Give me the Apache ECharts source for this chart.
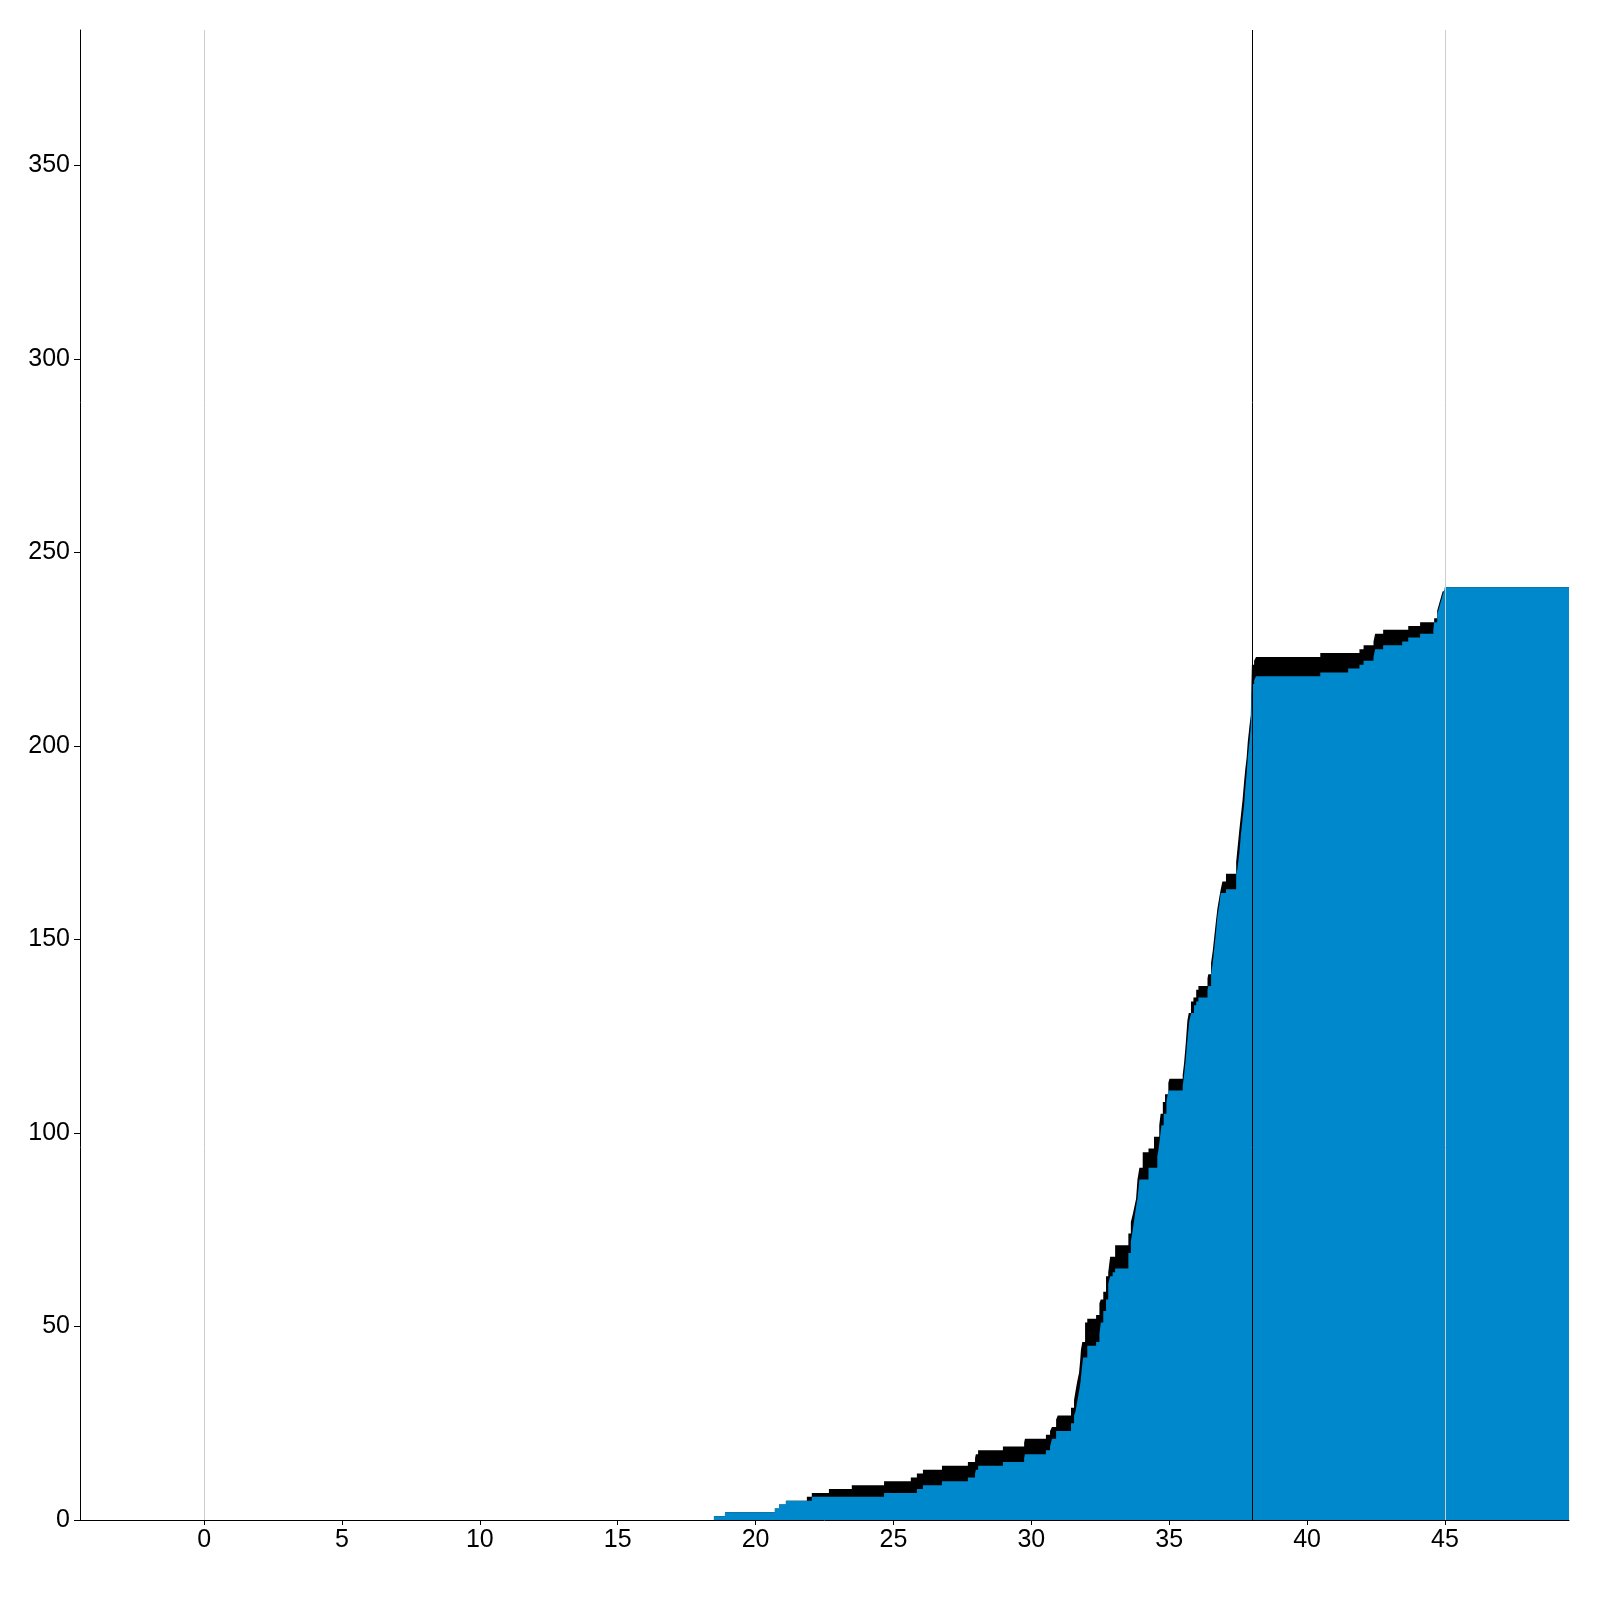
<!DOCTYPE html>
<html>
<head>
<meta charset="utf-8">
<script src="https://cdn.jsdelivr.net/npm/echarts@6/dist/echarts.min.js"></script>
<style>
html,body{margin:0;padding:0;background:#fff;}
#chart{width:1600px;height:1600px;}
</style>
</head>
<body>
<div id="chart"></div>
<script>
// Upper bound (black band top): [x, value], value holds from x until next x
const upperSteps = [
  [18.49,1],[18.89,2],[20.70,3],[20.85,4],[21.10,5],[21.86,6],[22.04,7],[22.66,8],[23.49,9],
  [24.66,10],[25.63,11],[25.85,12],[26.07,13],[26.76,14],[27.70,15],[27.96,16],[27.99,17],
  [28.07,18],[28.97,19],[29.74,20],[29.77,21],[30.53,22],[30.68,23],[30.75,24],[30.90,26],
  [30.96,27],[31.44,29],[31.55,31],[31.62,34],[31.67,36],[31.73,38],[31.77,41],[31.80,44],
  [31.85,46],[31.95,51],[32.03,52],[32.35,53],[32.47,56],[32.52,57],[32.61,59],[32.71,63],
  [32.79,64],[32.86,68],[33.04,71],[33.52,74],[33.61,77],[33.68,79],[33.74,81],[33.80,83],
  [33.85,88],[33.92,91],[34.04,95],[34.25,96],[34.45,99],[34.64,102],[34.69,105],[34.77,108],
  [34.85,110],[34.97,113],[35.01,114],[35.49,115],[35.54,118],[35.60,123],[35.66,129],
  [35.71,131],[35.79,134],[35.88,135],[35.98,137],[36.06,138],[36.39,140],[36.42,141],
  [36.52,144],[36.58,147],[36.64,151],[36.70,155],[36.75,158],[36.82,161],[36.87,163],
  [36.93,165],[37.06,167],[37.43,170],[37.47,173],[37.54,178],[37.60,182],[37.66,186],
  [37.72,191],[37.76,194],[37.81,197],[37.85,201],[37.91,205],[37.96,208],[38.00,221],
  [38.08,222],[38.15,223],[40.48,224],[41.90,225],[42.05,226],[42.41,227],[42.47,229],
  [42.76,230],[43.67,231],[44.10,232],[44.61,233],[44.72,235],[44.76,236],[44.80,237],
  [44.84,238],[44.88,239],[44.92,240],[45.00,241],[49.50,241]
];
// Lower bound (blue area top)
const lowerSteps = [
  [18.49,1],[18.89,2],[20.70,3],[20.85,4],[21.10,5],[22.04,6],[24.66,7],[25.85,8],[26.07,9],
  [26.76,10],[27.70,11],[27.96,12],[27.99,13],[28.07,14],[28.97,15],[29.74,16],[29.77,17],
  [30.53,18],[30.68,19],[30.75,21],[30.90,23],[31.44,25],[31.55,27],[31.60,28],[31.65,30],
  [31.70,32],[31.75,34],[31.79,36],[31.83,39],[31.88,42],[32.03,45],[32.35,46],[32.47,48],
  [32.52,51],[32.61,54],[32.71,57],[32.79,61],[32.86,63],[32.95,64],[33.04,65],[33.52,69],
  [33.61,72],[33.68,75],[33.74,78],[33.80,81],[33.85,83],[33.92,88],[34.25,91],[34.57,94],
  [34.62,96],[34.67,99],[34.72,102],[34.80,105],[34.90,108],[34.97,111],[35.49,112],
  [35.54,115],[35.60,119],[35.66,124],[35.73,129],[35.80,131],[35.90,133],[35.98,134],
  [36.06,135],[36.39,137],[36.42,138],[36.52,141],[36.58,144],[36.64,148],[36.70,152],
  [36.75,156],[36.82,159],[36.87,162],[37.06,163],[37.43,167],[37.47,168],[37.54,172],
  [37.60,177],[37.66,181],[37.72,185],[37.76,189],[37.81,193],[37.85,197],[37.91,201],
  [37.96,205],[38.00,216],[38.08,217],[38.15,218],[40.48,219],[41.49,220],[41.90,221],
  [42.05,222],[42.41,223],[42.47,225],[42.76,226],[43.45,227],[43.67,228],[44.10,229],
  [44.58,230],[44.61,232],[44.72,234],[44.76,235],[44.80,236],[44.84,237],[44.88,238],
  [44.92,239],[44.96,240],[45.00,241],[49.50,241]
];
const xTicks = [0,5,10,15,20,25,30,35,40,45];
const yTicks = [0,50,100,150,200,250,300,350];
const refLines = [
  {x: 0, color: '#cccccc'},
  {x: 38, color: '#000000'},
  {x: 45, color: '#cccccc'}
];

const chart = echarts.init(document.getElementById('chart'), null, {renderer: 'canvas'});
const font = {fontFamily: 'Liberation Sans, Arial, sans-serif', fontSize: 25, color: '#000'};
chart.setOption({
  animation: false,
  backgroundColor: '#fff',
  grid: {left: 80, right: 31, top: 30, bottom: 80},
  xAxis: {
    type: 'value', min: -4.5, max: 49.5,
    axisLine: {show: true, onZero: false, lineStyle: {color: '#000', width: 1}},
    axisTick: {show: true, length: 5, customValues: xTicks, lineStyle: {color: '#000'}},
    axisLabel: Object.assign({customValues: xTicks, margin: 8}, font),
    splitLine: {show: false}
  },
  yAxis: {
    type: 'value', min: 0, max: 385,
    axisLine: {show: true, onZero: false, lineStyle: {color: '#000', width: 1}},
    axisTick: {show: true, length: 6, customValues: yTicks, lineStyle: {color: '#000'}},
    axisLabel: Object.assign({customValues: yTicks, margin: 10}, font),
    splitLine: {show: false}
  },
  series: [
    {
      type: 'line', step: 'end', data: upperSteps, showSymbol: false, symbol: 'none',
      lineStyle: {width: 0, color: '#000'}, areaStyle: {color: '#000', opacity: 1}, z: 2
    },
    {
      type: 'line', step: 'end', data: lowerSteps, showSymbol: false, symbol: 'none',
      lineStyle: {width: 0, color: '#0088cc'}, areaStyle: {color: '#0088cc', opacity: 1}, z: 3,
      markLine: {
        silent: true, symbol: ['none', 'none'], label: {show: false}, animation: false,
        data: refLines.map(r => ({xAxis: r.x, lineStyle: {color: r.color, width: 1, type: 'solid'}}))
      }
    }
  ]
});
</script>
</body>
</html>
